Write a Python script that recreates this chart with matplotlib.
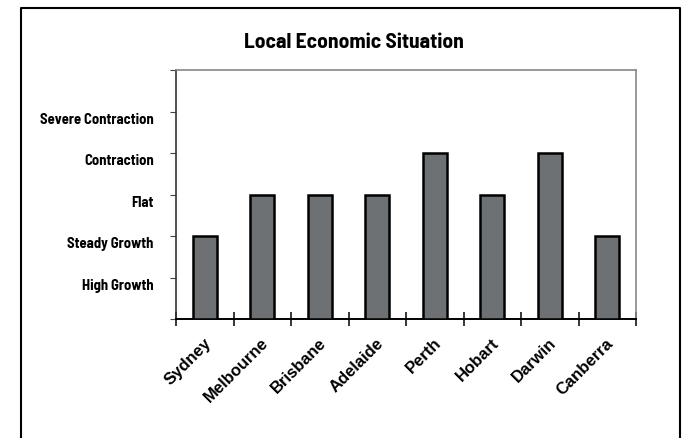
import matplotlib
matplotlib.use("Agg")
import matplotlib.pyplot as plt
from matplotlib.lines import Line2D

cities = ["Sydney", "Melbourne", "Brisbane", "Adelaide", "Perth", "Hobart", "Darwin", "Canberra"]
levels = [2, 3, 3, 3, 4, 3, 4, 2]
level_names = ["High Growth", "Steady Growth", "Flat", "Contraction", "Severe Contraction"]

narrow = ["Barlow Semi Condensed", "DejaVu Sans"]
wide = ["Liberation Sans", "DejaVu Sans"]

W, H = 682, 438
fig = plt.figure(figsize=(W / 100, H / 100), dpi=100)

# plot area in pixels: left 176, right 636, top 70, bottom 319
ax = fig.add_axes([176 / W, 1 - 319 / H, (636 - 176) / W, (319 - 70) / H])

x = range(len(cities))
ax.bar(x, levels, width=0.42, color="#6e7173", edgecolor="black", linewidth=1.8, zorder=3)
ax.set_xlim(-0.5, len(cities) - 0.5)
ax.set_ylim(0, 6)

ax.set_yticks(range(0, 7))
ax.set_yticklabels([])
for i, name in enumerate(level_names, start=1):
    ax.annotate(name, xy=(0, i), xycoords=("axes fraction", "data"),
                xytext=(-16, -6), textcoords="offset points",
                ha="right", va="center", fontsize=10.5, fontweight="bold",
                family=narrow)
ax.tick_params(axis="y", direction="out", length=4, width=0.8, color="#444444")

ax.set_xticks([i - 0.5 for i in range(len(cities) + 1)])
ax.set_xticklabels([])
ax.tick_params(axis="x", direction="inout", length=10, width=1.1, color="black")
for i, c in enumerate(cities):
    ax.annotate(c, xy=(i, 0), xycoords=("data", "axes fraction"),
                xytext=(-1, -12), textcoords="offset points",
                ha="right", va="top", rotation=45, rotation_mode="anchor",
                fontsize=12, fontweight="bold", family=wide)

for side in ("top", "right", "left"):
    ax.spines[side].set_color("#888888")
    ax.spines[side].set_linewidth(1.2)
ax.spines["left"].set_color("#333333")
ax.spines["bottom"].set_color("black")
ax.spines["bottom"].set_linewidth(1.4)

fig.text(354 / W, 1 - 42 / H, "Local Economic Situation", ha="center", va="center",
         fontsize=15.5, fontweight="bold", family=narrow)

# outer frame (no bottom edge)
fx = [20.5 / W, 20.5 / W, 680 / W, 680 / W]
fy = [0, 1 - 8 / H, 1 - 8 / H, 0]
fig.add_artist(Line2D(fx, fy, color="black", lw=1.5, transform=fig.transFigure))

fig.savefig("out.png", dpi=100)
